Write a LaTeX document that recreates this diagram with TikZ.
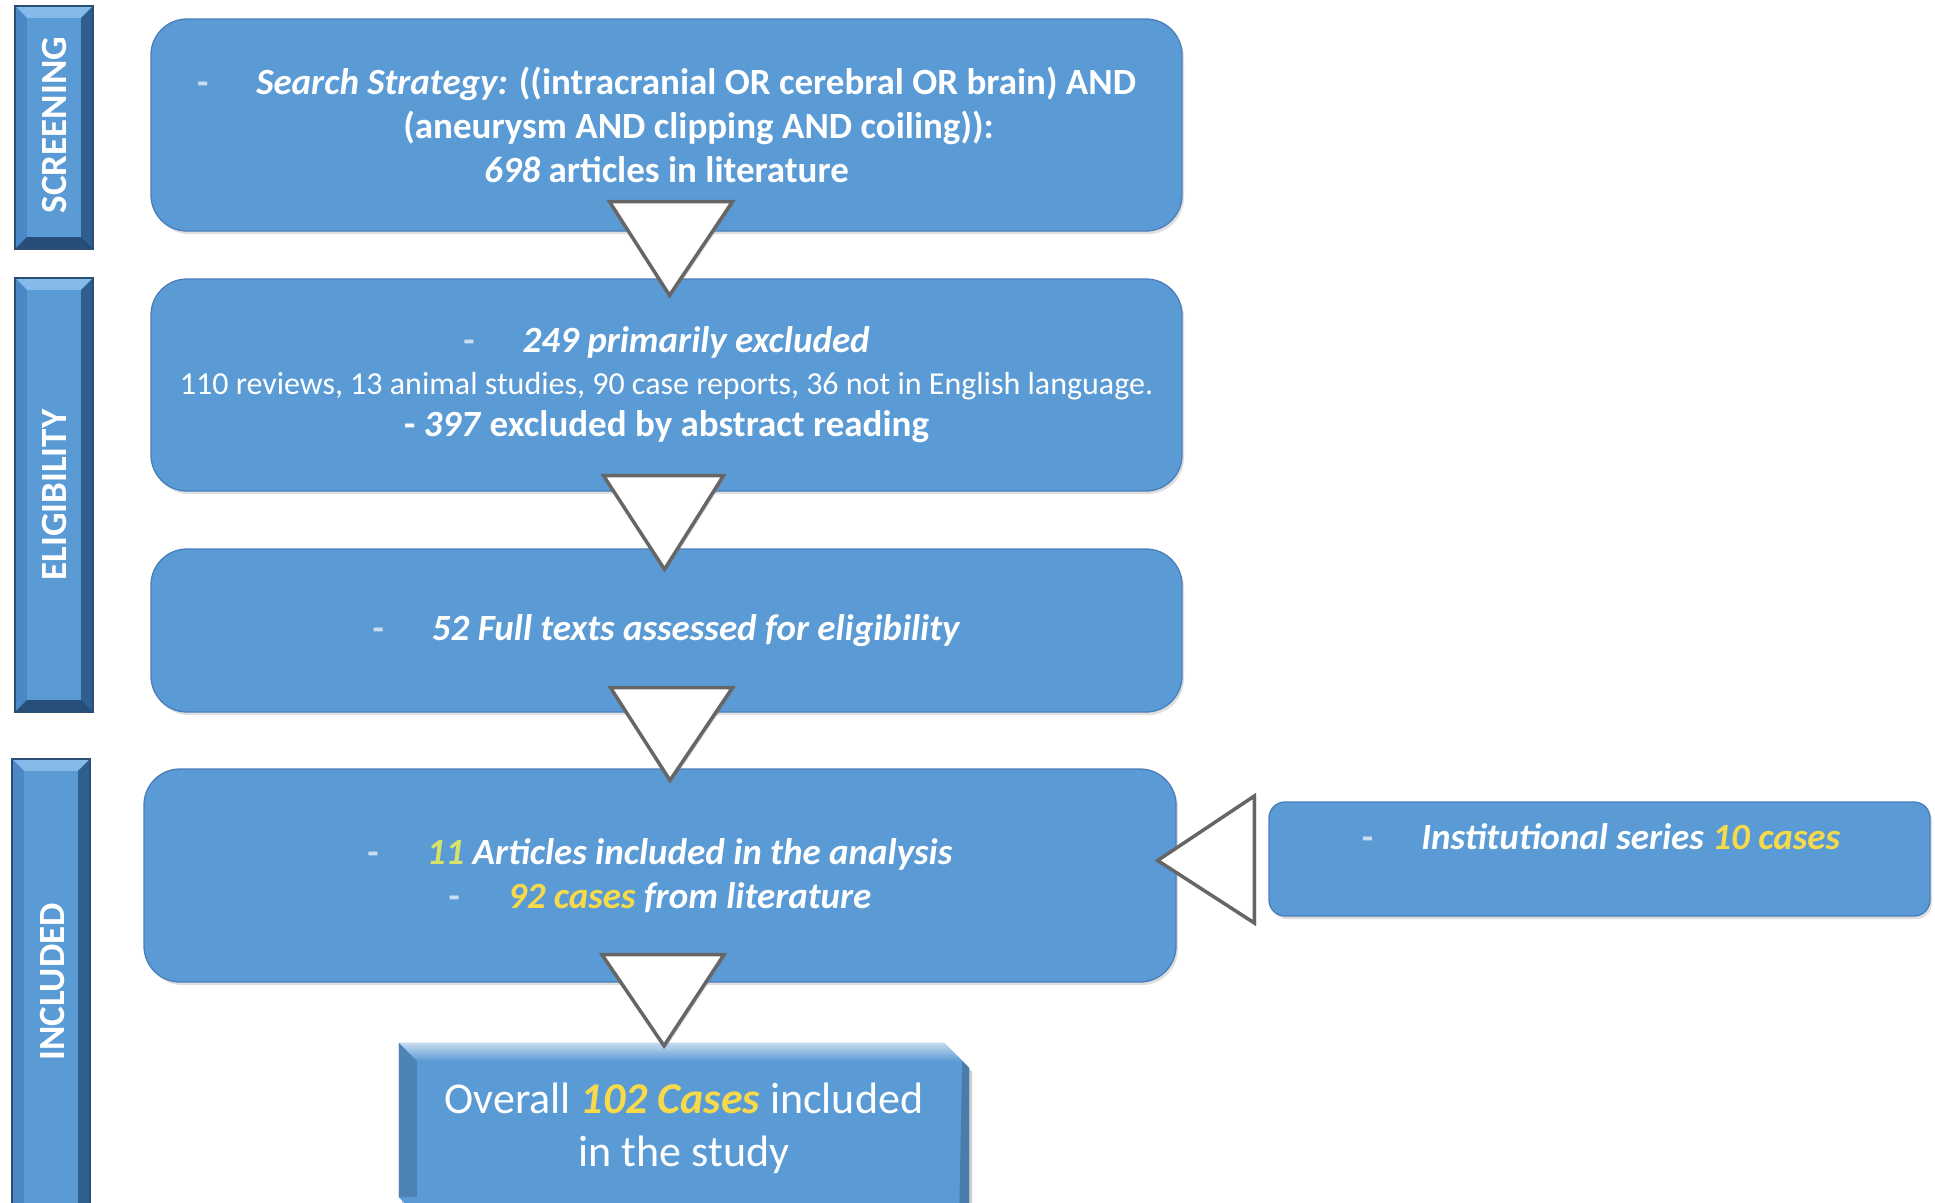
\documentclass[tikz,border=0pt]{standalone}
\usepackage{fontspec}
\setmainfont{Carlito}
\usetikzlibrary{calc,shadows}
\definecolor{boxblue}{HTML}{5B9BD5}
\definecolor{boxedge}{HTML}{4A7EBB}
\definecolor{ylw}{HTML}{F7DA4A}
\definecolor{ylwgreen}{HTML}{D6E36A}
\definecolor{dashc}{HTML}{C9DDF0}
\definecolor{barmid}{HTML}{5B9BD5}
\definecolor{barlight}{HTML}{86BAE8}
\definecolor{barleft}{HTML}{4A88C8}
\definecolor{barright}{HTML}{2F5F8F}
\definecolor{barbottom}{HTML}{274E78}
\definecolor{bardark}{HTML}{2A4E74}
\newcommand\bevelbar[5]{%
  % #1 x1, #2 y1, #3 x2, #4 y2, #5 bevel
  \fill[bardark] (#1,#2) rectangle (#3,#4);
  \fill[barlight] (#1,#2) -- (#3,#2) -- (#3-#5,#2+#5) -- (#1+#5,#2+#5) -- cycle;
  \fill[barleft] (#1,#2) -- (#1+#5,#2+#5) -- (#1+#5,#4-#5) -- (#1,#4) -- cycle;
  \fill[barright] (#3,#2) -- (#3-#5,#2+#5) -- (#3-#5,#4-#5) -- (#3,#4) -- cycle;
  \fill[barbottom] (#1,#4) -- (#1+#5,#4-#5) -- (#3-#5,#4-#5) -- (#3,#4) -- cycle;
  \fill[barmid] (#1+#5,#2+#5) rectangle (#3-#5,#4-#5);
  \draw[bardark, line width=1.5pt] (#1,#2) rectangle (#3,#4);
}
\begin{document}
\begin{tikzpicture}[x=1pt,y=-1pt,
  box/.style={draw=boxedge, line width=1.3pt, fill=boxblue, rounded corners=36pt,
    text=white, align=center, inner sep=0pt,
    drop shadow={shadow xshift=2pt, shadow yshift=-3pt, opacity=0.25}},
  mainfont/.style={font=\bfseries\fontsize{37}{44}\selectfont},
  tri/.style={fill=white, draw=black!60, line width=3.5pt, line join=miter,
    drop shadow={shadow xshift=2pt, shadow yshift=-2pt, opacity=0.3}},
  barlabel/.style={rotate=90, text=white, font=\bfseries\fontsize{37}{37}\selectfont}]
\useasboundingbox (0,0) rectangle (1935,1202);
\fill[white] (0,0) rectangle (1935,1202);

% side bars
\bevelbar{15}{6}{93}{249}{12}
\bevelbar{15}{278}{93}{712}{12}
\bevelbar{12}{759}{90}{1215}{12}
\node[barlabel] (lscr) at (54,125) {SCREENING};
\node[barlabel] (lelig) at (54,495) {ELIGIBILITY};
\node[barlabel] (lincl) at (53,982) {INCLUDED};

% boxes
\node[box, mainfont, minimum width=1031pt, minimum height=212pt] (b1) at (666.5,125)
  {{\color{dashc}-}\hspace{48pt}\textit{Search Strategy:} ((intracranial OR cerebral OR brain) AND\\
   \hspace*{64pt}(aneurysm AND clipping AND coiling)):\\
   \textit{698} articles in literature};
\node[box, mainfont, minimum width=1031pt, minimum height=212pt] (b2) at (666.5,385)
  {{\color{dashc}-}\hspace{48pt}\textit{249 primarily excluded}\\[-2pt]
   {\mdseries\fontsize{32}{40}\selectfont 110 reviews, 13 animal studies, 90 case reports, 36 not in English language.}\\[-2pt]
   - \textit{397} excluded by abstract reading};
\node[box, mainfont, minimum width=1031pt, minimum height=163pt] (b3) at (666.5,630.5)
  {{\color{dashc}-}\hspace{48pt}\textit{52 Full texts assessed for eligibility}};
\node[box, mainfont, minimum width=1032pt, minimum height=213pt] (b4) at (660,875.5)
  {{\color{dashc}-}\hspace{48pt}\textit{{\color{ylwgreen}11} Articles included in the analysis}\\
   {\color{dashc}-}\hspace{48pt}\textit{{\color{ylw}92 cases} from literature}};
\node[box, rounded corners=16pt, minimum width=661pt, minimum height=114pt] (b5) at (1599.5,859) {};
\node[text=white, mainfont] (b5t) at (1601,837)
  {{\color{dashc}-}\hspace{48pt}\textit{Institutional series {\color{ylw}10 cases}}};

% bottom bevelled box
\node[minimum width=570pt, minimum height=170pt, inner sep=0pt] (b6) at (684,1128) {};
\fill[black, opacity=0.2] ($(b6.north west)+(3,4)$) -- ($(b6.north east)+(-22,4)$) -- ($(b6.north east)+(3,29)$) -- ($(b6.south east)+(3,0)$) -- ($(b6.south west)+(3,0)$) -- cycle;
\fill[boxblue] (b6.north west) -- ($(b6.north east)+(-25,0)$) -- ($(b6.north east)+(0,25)$) -- (b6.south east) -- ($(b6.south west)+(16,0)$) -- ($(b6.south west)+(0,-16)$) -- cycle;
\shade[top color=white!65!boxblue, bottom color=boxblue] (b6.north west) -- ($(b6.north east)+(-25,0)$) -- ($(b6.north east)+(-7,18)$) -- ($(b6.north west)+(18,18)$) -- cycle;
\fill[boxblue!85!black] (b6.north west) -- ($(b6.north west)+(18,18)$) -- ($(b6.south west)+(18,-16)$) -- ($(b6.south west)+(0,-16)$) -- cycle;
\fill[boxblue!80!black] ($(b6.north east)+(0,25)$) -- ($(b6.north east)+(-7,18)$) -- ($(b6.south east)+(-10,0)$) -- (b6.south east) -- cycle;
\node[text=white, align=center, font=\fontsize{44}{53}\selectfont] (b6t) at (684,1128)
  {Overall \textbf{\textit{\color{ylw}102 Cases}} included\\ in the study};

% triangle connectors
\draw[tri] ($(b1.south)+(-57,-30)$) -- ($(b1.south)+(66,-30)$) -- ($(b2.north)+(3,17)$) -- cycle;
\draw[tri] ($(b2.south)+(-63,-16)$) -- ($(b2.south)+(57,-16)$) -- ($(b3.north)+(-2,21)$) -- cycle;
\draw[tri] ($(b3.south)+(-56,-25)$) -- ($(b3.south)+(66,-25)$) -- ($(b4.north)+(10,12)$) -- cycle;
\draw[tri] ($(b4.south)+(-58,-28)$) -- ($(b4.south)+(64,-28)$) -- ($(b6.north)+(-20,3)$) -- cycle;
\draw[tri] ($(b5.west)+(-14,-63)$) -- ($(b5.west)+(-14,64)$) -- ($(b4.east)+(-19,-15)$) -- cycle;
\end{tikzpicture}
\end{document}
